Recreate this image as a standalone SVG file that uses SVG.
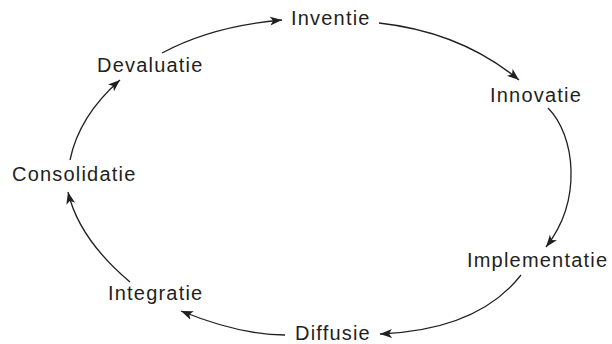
<svg xmlns="http://www.w3.org/2000/svg" width="612" height="344" viewBox="0 0 612 344">
<style>
.lbl{font-family:"Liberation Sans",Arial,sans-serif;font-size:20px;letter-spacing:1.2px;fill:#231f20}
.arc{fill:none;stroke:#231f20;stroke-width:1.3}
</style>
<defs>
<marker id="ah" markerUnits="userSpaceOnUse" markerWidth="13" markerHeight="10" viewBox="0 0 13 10" refX="12" refY="5" orient="auto">
<path d="M0,0.5 L12,5 L0,9.5 L3,5 z" fill="#231f20"/>
</marker>
</defs>
<rect width="612" height="344" fill="#fff"/>
<g id="connectors">
<path class="arc" marker-end="url(#ah)" d="M162,53 Q212,26 282,20"/>
<path class="arc" marker-end="url(#ah)" d="M379,23 Q461,32 519,80"/>
<path class="arc" marker-end="url(#ah)" d="M548,108 C575,135 583,200 546,247"/>
<path class="arc" marker-end="url(#ah)" d="M521,275 Q478,330 380,334"/>
<path class="arc" marker-end="url(#ah)" d="M285,335 Q240,335 181,311"/>
<path class="arc" marker-end="url(#ah)" d="M130,282 Q79,239 68,192"/>
<path class="arc" marker-end="url(#ah)" d="M70,160 Q79,116 120,80"/>
</g>
<g id="inventie"><text class="lbl" x="291" y="25">Inventie</text></g>
<g id="innovatie"><text class="lbl" x="490" y="102">Innovatie</text></g>
<g id="implementatie"><text class="lbl" x="467" y="267">Implementatie</text></g>
<g id="diffusie"><text class="lbl" x="295" y="340">Diffusie</text></g>
<g id="integratie"><text class="lbl" x="108" y="300">Integratie</text></g>
<g id="consolidatie"><text class="lbl" x="12" y="181">Consolidatie</text></g>
<g id="devaluatie"><text class="lbl" x="97" y="72">Devaluatie</text></g>
</svg>
